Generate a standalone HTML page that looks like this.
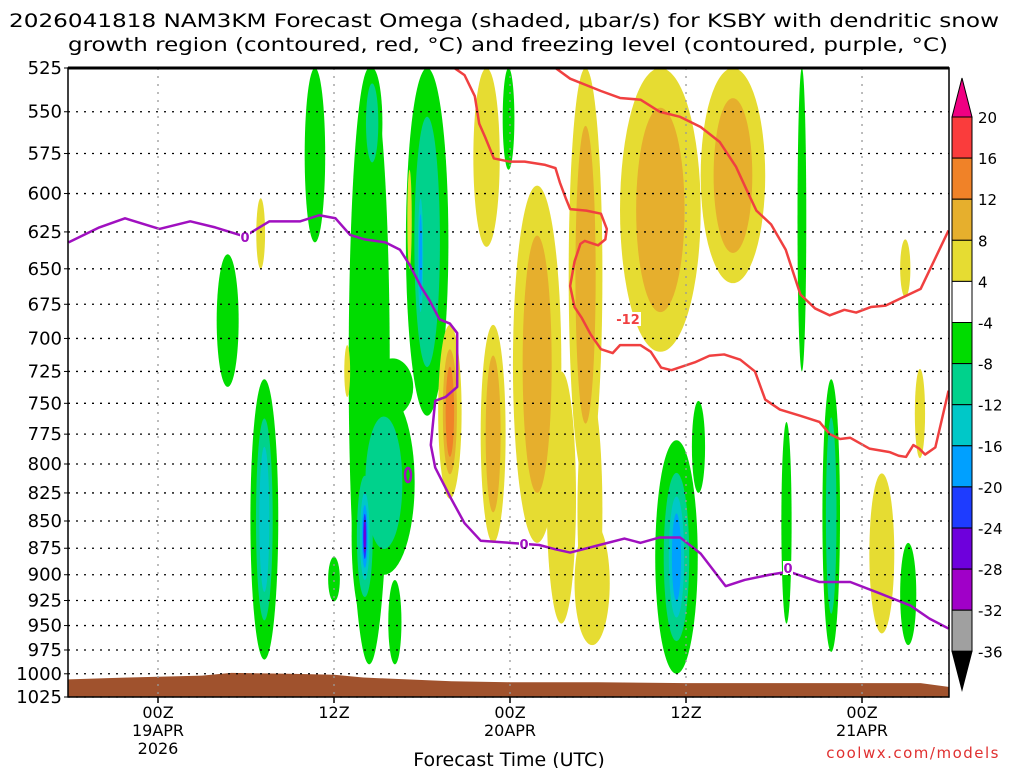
<!DOCTYPE html>
<html><head><meta charset="utf-8"><style>
html,body{margin:0;padding:0;background:#fff;}
svg{display:block;font-family:"DejaVu Sans","Liberation Sans",sans-serif;}
</style></head><body>
<svg id="chart" width="1024" height="768" viewBox="0 0 1024 768" xmlns="http://www.w3.org/2000/svg">
<text x="504" y="27" font-size="19" text-anchor="middle" textLength="990" lengthAdjust="spacingAndGlyphs">2026041818 NAM3KM Forecast Omega (shaded, μbar/s) for KSBY with dendritic snow</text>
<text x="508" y="51" font-size="19" text-anchor="middle" textLength="880" lengthAdjust="spacingAndGlyphs">growth region (contoured, red, °C) and freezing level (contoured, purple, °C)</text>
<g id="plot"></g>
<g id="axes"></g>
<g id="cbar"></g>
<text x="509" y="766" font-size="19" text-anchor="middle">Forecast Time (UTC)</text>
<text x="1000" y="758" font-size="15" fill="#e03030" text-anchor="end" letter-spacing="1.5">coolwx.com/models</text>
</svg>
<script>
// ---- data ----
const pTicks = [525,550,575,600,625,650,675,700,725,750,775,800,825,850,875,900,925,950,975,1000,1025];
const timeTicks = [0,12,24,36,48];
const timeTickLabels = [["00Z","19APR","2026"],["12Z"],["00Z","20APR"],["12Z"],["00Z","21APR"]];
const cbLevels = [20,16,12,8,4,-4,-8,-12,-16,-20,-24,-28,-32,-36];
// omega features: hour start, hour end, top pressure, bottom pressure, peak value
const blobHour0 = [10.0,4.0,6.3,13.0,13.9,13.3,13.2,16.9,17.4,14.6,11.6,15.7,23.5,33.9,36.4,42.5,43.6,45.3,50.6, 6.7,12.7,19.1,17.0,21.5,22.0,24.2,28.0,28.4,31.5,37.0,48.5,50.6,51.6,26.5,28.6];
const blobHour1 = [11.4,5.5,8.2,15.8,15.3,17.5,15.0,19.8,18.4,17.4,12.4,16.6,24.3,36.8,37.3,43.2,44.2,46.5,51.7, 7.3,13.1,20.7,17.3,23.3,23.7,27.5,30.3,30.8,37.0,41.4,50.2,51.3,52.3,28.5,30.3];
const blobPTop  = [525,640,731,525,525,740,790,525,570,715,883,905,525,780,748,765,525,731,870, 603,705,690,585,525,690,595,525,850,525,525,808,630,723,725,740];
const blobPBot  = [632,737,985,990,590,900,945,760,720,760,926,990,585,1000,825,948,725,977,970, 650,745,830,650,635,870,870,815,970,710,660,958,670,795,948,955];
const blobValue = [-7,-7,-14,-6,-9,-10,-26,-9,-18,-6,-6,-6,-6,-19,-6,-6,-6,-11,-6, 5,5,13,5,5,9,11,9,5,9,9,5,5,5,5,5];
// freezing level (0C) contour
const fzHours = [-6.1,-4.0,-2.25,0.1,2.2,3.9,5.9,7.6,9.7,11.0,12.1,13.1,14.1,15.5,16.5,17.2,17.9,18.5,19.2,19.9,20.4,20.4,19.6,18.9,18.6,18.9,19.9,20.9,22.0,24.0,26.0,27.1,28.1,30.1,31.8,32.9,34.2,35.6,37.0,38.7,40.0,41.7,43.0,45.1,47.2,49.2,51.3,52.6,53.9];
const fzPres  = [632,622,616,623,618,622,628,618,618,614,616,627,630,632,637,648,662,672,686,689,696,737,745,748,784,803,828,852,868,870,872,876,879,872,866,870,865,865,880,911,905,900,897,907,907,918,930,943,953];
// -12C contours (dendritic growth region)
const dg1Hours = [20.2,20.9,21.6,21.9,22.3,22.9,24.0,25.0,26.4,27.1,27.4,27.8,28.1,29.2,30.2,30.6,30.5,30.0,29.1,28.8,28.4,28.1,28.4,28.9,29.5,30.2,31.0,31.5,32.9,33.6,34.3,35.0,36.6,37.6,38.6,39.7,40.7,41.4,42.4,43.8,45.1,45.8,46.5,47.2,48.5,49.9,50.5,51.0,51.5,51.9,52.3,53.0,53.9];
const dg1Pres  = [525,529,541,557,565,578,580,580,582,584,593,603,610,611,613,623,630,634,631,633,645,662,677,685,697,708,711,705,705,710,722,724,718,713,712,716,725,747,755,760,765,775,779,778,787,790,793,794,784,787,792,786,740];
const dg2Hours = [27.1,28.1,30.2,31.5,32.9,34.2,35.6,37.0,38.3,39.4,40.1,40.8,41.8,42.8,43.8,44.8,45.8,46.8,47.6,48.6,49.6,50.6,52.0,53.9];
const dg2Pres  = [525,531,538,542,543,550,553,559,568,583,597,611,620,637,668,678,683,679,681,677,676,671,664,624];
// surface (terrain) pressure
const sfcHours = [-6.1,-2,3,5,9,12,14,17,20,24,30,36,42,48,52,53.9];
const sfcPres  = [1006,1004,1002,999,1000,1001,1004,1006,1008,1009,1009,1010,1010,1010,1010,1014];

// ---- axis functions ----
const X0=68, X1=949, Y0=68, Y1=697;
const X = h => 158 + h*14.667;
const Y = p => Y0 + Math.log(p/525)/Math.log(1025/525)*(Y1-Y0);
const NS="http://www.w3.org/2000/svg";
function mk(tag, attrs, parent){const e=document.createElementNS(NS,tag);for(const k in attrs)e.setAttribute(k,attrs[k]);parent.appendChild(e);return e;}
const posColors=["#e6dc32","#e6af2d","#f08228","#fa3c3c"];
const negColors=["#00dc00","#00d28c","#00c8c8","#00a0ff","#1e3cff","#6e00dc","#a000c8","#a0a0a0"];

const plot=document.getElementById('plot');
const defs=mk('defs',{},plot);
const cp=mk('clipPath',{id:'clip'},defs);
mk('rect',{x:X0,y:Y0,width:X1-X0,height:Y1-Y0},cp);
const g=mk('g',{'clip-path':'url(#clip)'},plot);

// shaded omega
const layers=[];
for(let b=0;b<blobValue.length;b++){
  const v=blobValue[b], n=Math.floor((Math.abs(v)-4)/4)+1;
  for(let i=0;i<n;i++) layers.push([i,b,n]);
}
layers.sort((a,b)=>a[0]-b[0]);
for(const [i,b,n] of layers){
  const v=blobValue[b];
  const cx=(X(blobHour0[b])+X(blobHour1[b]))/2, rx=(X(blobHour1[b])-X(blobHour0[b]))/2;
  const yt=Y(blobPTop[b]), yb=Y(blobPBot[b]);
  const cy=(yt+yb)/2, ry=(yb-yt)/2;
  const s=Math.pow(0.6,i), sy=Math.pow(0.72,i);
  const e=mk('ellipse',{cx:cx,cy:cy,rx:rx*s,ry:ry*sy,fill:(v>0?posColors:negColors)[i]},g);
  
  
}
// terrain
let d='M'+X(sfcHours[0])+','+Y1;
sfcHours.forEach((h,i)=>d+=' L'+X(h)+','+Y(sfcPres[i]));
d+=' L'+X(sfcHours[sfcHours.length-1])+','+Y1+' Z';
const ter=mk('path',{d:d,fill:'#a0522d'},g);



// grid
pTicks.forEach(p=>{const l=mk('line',{x1:X0,x2:X1,y1:Y(p),y2:Y(p),stroke:'#000','stroke-width':1.3,'stroke-dasharray':'2 6'},plot);
  
  });
timeTicks.forEach(t=>{const l=mk('line',{x1:X(t),x2:X(t),y1:Y0,y2:Y1,stroke:'#999','stroke-width':1.3,'stroke-dasharray':'2 6'},plot);
  
  });

function line(hs,ps,color,name){
  let dd='';hs.forEach((h,i)=>dd+=(i?' L':'M')+X(h)+','+Y(ps[i]));
  const l=mk('path',{d:dd,fill:'none',stroke:color,'stroke-width':2.5,'stroke-linejoin':'round'},g);
  
  
}
line(dg1Hours,dg1Pres,'#f04040','dendritic-contour-lower');
line(dg2Hours,dg2Pres,'#f04040','dendritic-contour-upper');
line(fzHours,fzPres,'#a010c0','freezing-level-contour');
// small freezing oval
const ov=mk('ellipse',{cx:408,cy:475,rx:3,ry:7,fill:'none',stroke:'#a010c0','stroke-width':2.5},g);


// contour labels
[[245,237,'0','#a010c0'],[524,544,'0','#a010c0'],[788,568,'0','#a010c0'],[628,319,'-12','#f04040']].forEach(a=>{
  const r=mk('rect',{x:a[0]-(a[2].length*4+1),y:a[1]-7,width:a[2].length*8+2,height:14,fill:'#fff'},g);
  const t=mk('text',{x:a[0],y:a[1]+5,'font-size':13,'font-weight':'bold',fill:a[3],'text-anchor':'middle'},g);
  t.textContent=a[2];
  
  
});

// axes
const ax=document.getElementById('axes');
mk('rect',{x:X0,y:Y0,width:X1-X0,height:Y1-Y0,fill:'none',stroke:'#000','stroke-width':1.5},ax);
mk('line',{x1:X0,x2:X1,y1:Y0,y2:Y0,stroke:'#000','stroke-width':3},ax);
pTicks.forEach(p=>{
  const t=mk('text',{x:62,y:Y(p)+6,'font-size':18,'text-anchor':'end'},ax);
  t.textContent=p;
  
  
  mk('line',{x1:X0-4,x2:X0,y1:Y(p),y2:Y(p),stroke:'#000'},ax);
});
timeTicks.forEach((tt,i)=>{
  mk('line',{x1:X(tt),x2:X(tt),y1:Y1,y2:Y1+6,stroke:'#000','stroke-width':1.5},ax);
  timeTickLabels[i].forEach((s,j)=>{
    const t=mk('text',{x:X(tt),y:718+j*18,'font-size':16,'text-anchor':'middle'},ax);
    t.textContent=s;
    
    
  });
});

// colorbar
const cb=document.getElementById('cbar');
const cbX=952,cbW=20,cbTop=117,cbStep=41.1;
const cbColors=["#fa3c3c","#f08228","#e6af2d","#e6dc32","#ffffff","#00dc00","#00d28c","#00c8c8","#00a0ff","#1e3cff","#6e00dc","#a000c8","#a0a0a0"];
const tri1=mk('polygon',{points:`${cbX},${cbTop} ${cbX+cbW},${cbTop} ${cbX+cbW/2},78`,fill:'#f00082',stroke:'#000'},cb);


cbColors.forEach((c,i)=>{
  const r=mk('rect',{x:cbX,y:cbTop+i*cbStep,width:cbW,height:cbStep,fill:c,stroke:'#000','stroke-width':1},cb);
  
  
});
const yEnd=cbTop+cbColors.length*cbStep;
const tri2=mk('polygon',{points:`${cbX},${yEnd} ${cbX+cbW},${yEnd} ${cbX+cbW/2},690`,fill:'#000',stroke:'#000'},cb);


cbLevels.forEach((v,i)=>{
  const t=mk('text',{x:978,y:cbTop+i*cbStep+6,'font-size':15},cb);
  t.textContent=v;
  
  
});
</script>
</body></html>
